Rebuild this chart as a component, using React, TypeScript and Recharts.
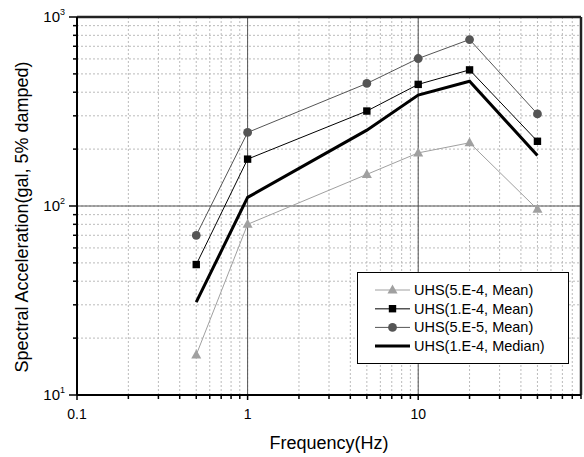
import { LineChart, Line, XAxis, YAxis, CartesianGrid, ReferenceLine, Legend, Label } from "recharts";

const freqs = [0.5, 1, 5, 10, 20, 50];
const uhs5e4Mean = [16.3, 80, 147, 191, 216, 96];
const uhs1e4Mean = [49, 177, 318, 440, 525, 220];
const uhs5e5Mean = [70, 245, 445, 603, 760, 307];
const uhs1e4Median = [31, 111, 252, 386, 457, 185];

const xTicks = [0.1, 0.2, 0.3, 0.4, 0.5, 0.6, 0.7, 0.8, 0.9, 1, 2, 3, 4, 5, 6, 7, 8, 9, 10, 20, 30, 40, 50, 60, 70, 80, 90];
const xMajor = [0.1, 1, 10];
const yTicks = [10, 20, 30, 40, 50, 60, 70, 80, 90, 100, 200, 300, 400, 500, 600, 700, 800, 900, 1000];
const yMajor: Record<number, string> = { 10: "1", 100: "2", 1000: "3" };

const seriesNames = ["UHS(5.E-4, Mean)", "UHS(1.E-4, Mean)", "UHS(5.E-5, Mean)", "UHS(1.E-4, Median)"];

const data = freqs.map((f, i) => ({
  f,
  a: uhs5e4Mean[i],
  b: uhs1e4Mean[i],
  c: uhs5e5Mean[i],
  d: uhs1e4Median[i],
}));

const FONT = "Arial, 'Liberation Sans', sans-serif";
const LIGHT = "#a0a0a0";
const DARK = "#555555";

const tri = (cx: number, cy: number, fill: string, key?: any) => (
  <path key={key} d={`M${cx},${cy - 5.5}L${cx - 5},${cy + 3.5}L${cx + 5},${cy + 3.5}Z`} fill={fill} />
);
const sq = (cx: number, cy: number, fill: string, key?: any) => (
  <rect key={key} x={cx - 3.7} y={cy - 3.7} width={7.4} height={7.4} fill={fill} />
);
const circ = (cx: number, cy: number, fill: string, key?: any) => (
  <circle key={key} cx={cx} cy={cy} r={4.4} fill={fill} />
);

const XTick = ({ x, y, payload }: any) => {
  const major = xMajor.includes(payload.value);
  return (
    <g>
      <line x1={x} x2={x} y1={y} y2={y + (major ? 5 : 4)} stroke="#000" strokeWidth={1.5} />
      {major && (
        <text x={x} y={y + 24} textAnchor="middle" fontSize={14} fontFamily={FONT} fill="#000">
          {payload.value}
        </text>
      )}
    </g>
  );
};

const YTick = ({ x, y, payload }: any) => {
  const exp = yMajor[payload.value];
  return (
    <g>
      <line x1={x - (exp ? 8 : 4)} x2={x} y1={y} y2={y} stroke="#000" strokeWidth={1.5} />
      {exp && (
        <text x={x - 12} y={y + 5} textAnchor="end" fontSize={15} fontFamily={FONT} fill="#000">
          10
          <tspan dy={-7} fontSize={9}>{exp}</tspan>
        </text>
      )}
    </g>
  );
};

const renderLegend = () => {
  const icons = [
    (cx: number, cy: number) => tri(cx, cy, LIGHT),
    (cx: number, cy: number) => sq(cx, cy, "#000"),
    (cx: number, cy: number) => circ(cx, cy, DARK),
    null,
  ];
  const lineColors = [LIGHT, DARK, DARK, "#000"];
  const lineWidths = [1, 1.5, 1, 3];
  return (
    <svg width={212} height={92} style={{ display: "block" }}>
      <rect x={0.5} y={0.5} width={211} height={91} fill="#fff" stroke="#000" strokeWidth={1} />
      {seriesNames.map((name, i) => {
        const cy = 18 + i * 18.7;
        const icon = icons[i];
        return (
          <g key={name}>
            <line x1={18} x2={53} y1={cy} y2={cy} stroke={lineColors[i]} strokeWidth={lineWidths[i]} />
            {icon && icon(35.5, cy)}
            <text x={57} y={cy + 5} fontSize={14.5} fontFamily={FONT} fill="#000">
              {name}
            </text>
          </g>
        );
      })}
    </svg>
  );
};

export default function App() {
  return (
    <div style={{ position: "absolute", left: 0, top: 0, background: "#fff" }}>
      <LineChart width={584} height={457} data={data} margin={{ top: 17, right: 3, left: 0, bottom: 0 }}>
        <CartesianGrid stroke="#bbbbbb" strokeDasharray="2 2" strokeWidth={1} />
        <ReferenceLine x={1} stroke={DARK} strokeWidth={1} />
        <ReferenceLine x={10} stroke={DARK} strokeWidth={1} />
        <ReferenceLine y={100} stroke={DARK} strokeWidth={1} />
        <ReferenceLine y={1000} stroke="#222" strokeWidth={2.5} />
        <ReferenceLine x={90} stroke="#222" strokeWidth={2.5} />
        <XAxis
          dataKey="f"
          type="number"
          scale="log"
          domain={[0.1, 90]}
          allowDataOverflow
          ticks={xTicks}
          interval={0}
          tick={<XTick />}
          tickSize={0}
          tickMargin={0}
          tickLine={false}
          height={62}
          axisLine={{ stroke: "#000", strokeWidth: 2 }}
        >
          <Label
            content={() => (
              <text x={329} y={449} textAnchor="middle" fontSize={18} fontFamily={FONT} fill="#000">
                Frequency(Hz)
              </text>
            )}
          />
        </XAxis>
        <YAxis
          type="number"
          scale="log"
          domain={[10, 1000]}
          allowDataOverflow
          ticks={yTicks}
          interval={0}
          tick={<YTick />}
          tickSize={0}
          tickMargin={0}
          tickLine={false}
          width={77}
          axisLine={{ stroke: "#000", strokeWidth: 2 }}
        >
          <Label
            content={() => (
              <text
                x={22}
                y={217}
                transform="rotate(-90, 22, 217)"
                textAnchor="middle"
                dominantBaseline="central"
                fontSize={18}
                fontFamily={FONT}
                fill="#000"
              >
                Spectral Acceleration(gal, 5% damped)
              </text>
            )}
          />
        </YAxis>
        <Line
          dataKey="a"
          type="linear"
          stroke={LIGHT}
          strokeWidth={1}
          isAnimationActive={false}
          dot={(p: any) => tri(p.cx, p.cy, LIGHT, `a${p.index}`)}
          activeDot={false}
        />
        <Line
          dataKey="b"
          type="linear"
          stroke="#000"
          strokeWidth={1}
          isAnimationActive={false}
          dot={(p: any) => sq(p.cx, p.cy, "#000", `b${p.index}`)}
          activeDot={false}
        />
        <Line
          dataKey="c"
          type="linear"
          stroke={DARK}
          strokeWidth={1}
          isAnimationActive={false}
          dot={(p: any) => circ(p.cx, p.cy, DARK, `c${p.index}`)}
          activeDot={false}
        />
        <Line
          dataKey="d"
          type="linear"
          stroke="#000"
          strokeWidth={3}
          isAnimationActive={false}
          dot={false}
          activeDot={false}
        />
        <Legend
          layout="horizontal"
          verticalAlign="middle"
          align="center"
          content={renderLegend}
          wrapperStyle={{ left: 357, top: 272, width: 212, height: 92 }}
        />
      </LineChart>
    </div>
  );
}
